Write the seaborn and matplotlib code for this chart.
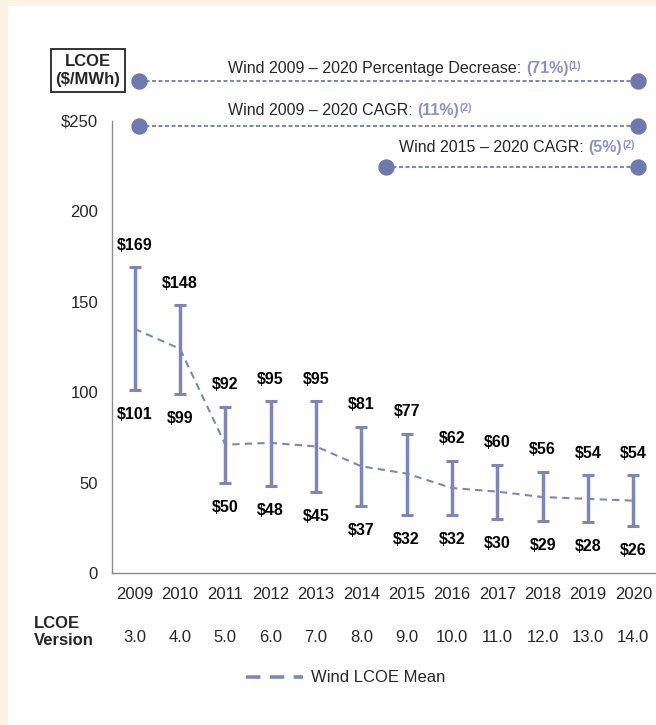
import matplotlib
matplotlib.use("Agg")
import matplotlib.pyplot as plt
import matplotlib.transforms as mtransforms
from matplotlib.patches import Rectangle
from matplotlib.lines import Line2D
import seaborn as sns

# datos del grafico (LCOE eolico, $/MWh)
anios = ["2009", "2010", "2011", "2012", "2013", "2014",
         "2015", "2016", "2017", "2018", "2019", "2020"]
versiones = ["3.0", "4.0", "5.0", "6.0", "7.0", "8.0",
             "9.0", "10.0", "11.0", "12.0", "13.0", "14.0"]
lcoe_alto = [169, 148, 92, 95, 95, 81, 77, 62, 60, 56, 54, 54]
lcoe_bajo = [101, 99, 50, 48, 45, 37, 32, 32, 30, 29, 28, 26]
lcoe_medio = [135, 124, 71, 72, 70, 59, 55, 47, 45, 42, 41, 40]
y_ticks = [0, 50, 100, 150, 200, 250]
y_labels = ["0", "50", "100", "150", "200", "$250"]
rangos_txt = ["Wind 2009 \u2013 2020 Percentage Decrease: ",
              "Wind 2009 \u2013 2020 CAGR: ",
              "Wind 2015 \u2013 2020 CAGR: "]
rangos_pct = ["(71%)", "(11%)", "(5%)"]
rangos_nota = ["(1)", "(2)", "(2)"]

AZUL = "#7C86B9"
AZUL_PUNTO = "#6F79AE"
AZUL_TXT = "#8A92C8"
GRIS = "#8C8C8C"
TXT = "#262626"

sns.set_style("white")
plt.rcParams["font.family"] = ["Liberation Sans", "DejaVu Sans"]

W, H = 656, 725
fig = plt.figure(figsize=(W / 100, H / 100), dpi=100)
fig.patch.set_facecolor("#FDF3E4")
fig.add_artist(Rectangle((8 / W, 0), 1, 1 - 6 / H, transform=fig.transFigure,
                         facecolor="white", edgecolor="none", zorder=0))

ax = fig.add_axes([112 / W, 1 - 573 / H, 544 / W, 452 / H])
ax.set_facecolor("white")
x = list(range(len(anios)))

err_bajo = [m - b for m, b in zip(lcoe_medio, lcoe_bajo)]
err_alto = [a - m for a, m in zip(lcoe_alto, lcoe_medio)]
ax.errorbar(x, lcoe_medio, yerr=[err_bajo, err_alto], fmt="none", ecolor=AZUL,
            elinewidth=2.5, capsize=4.3, capthick=2.2, zorder=3)
sns.lineplot(x=x, y=lcoe_medio, ax=ax, color=AZUL, linewidth=1.5,
             linestyle=(0, (3.5, 2.5)), zorder=4, legend=False)

for i in x:
    ax.annotate(f"${lcoe_alto[i]}", (i, lcoe_alto[i]), xytext=(0, 15.8),
                textcoords="offset points", ha="center", va="center",
                fontsize=11.5, fontweight="bold", color="black")
    ax.annotate(f"${lcoe_bajo[i]}", (i, lcoe_bajo[i]), xytext=(0, -17.6),
                textcoords="offset points", ha="center", va="center",
                fontsize=11.5, fontweight="bold", color="black")

ax.set_xlim(-0.5, 11.39)
ax.set_ylim(0, 250)
ax.set_xticks(x)
ax.set_xticklabels(anios, fontsize=12, color=TXT)
ax.set_xticks([i - 0.5 for i in range(len(anios) + 1)], minor=True)
ax.set_yticks(y_ticks)
ax.set_yticklabels(y_labels, fontsize=12, color=TXT)
ax.tick_params(axis="x", which="major", length=0, pad=10)
ax.tick_params(axis="x", which="minor", length=4, width=1, color=GRIS, direction="out")
ax.tick_params(axis="y", length=4, width=1, color=GRIS, direction="out", pad=6)
for lado in ["top", "right"]:
    ax.spines[lado].set_visible(False)
for lado in ["left", "bottom"]:
    ax.spines[lado].set_color(GRIS)
    ax.spines[lado].set_linewidth(1.0)

# lineas de rango en la cabecera
linea_x0 = [0.1, 0.1, 5.55]
linea_x1 = [11.1, 11.1, 11.1]
linea_y = [272, 247, 224.5]
texto_x = [2.06, 2.06, 5.84]
texto_y = [279, 256, 235.6]
for k in range(3):
    ax.plot([linea_x0[k], linea_x1[k]], [linea_y[k]] * 2, color=AZUL_PUNTO,
            lw=1.3, ls=(0, (2.2, 1.4)), clip_on=False, zorder=5)
    ax.plot([linea_x0[k], linea_x1[k]], [linea_y[k]] * 2, "o", color=AZUL_PUNTO,
            ms=10.8, clip_on=False, zorder=6)
    t1 = ax.text(texto_x[k], texto_y[k], rangos_txt[k], ha="left", va="center",
                 fontsize=11.5, color=TXT, clip_on=False)
    t2 = ax.annotate(rangos_pct[k], xy=(1, 0), xycoords=t1, ha="left",
                     va="bottom", fontsize=11.5, fontweight="bold", color=AZUL_TXT)
    ax.annotate(rangos_nota[k], xy=(1, 1), xycoords=t2, ha="left", va="top",
                fontsize=7.5, fontweight="bold", color=AZUL_TXT)

fig.text(88 / W, 1 - 70.5 / H, "LCOE\n($/MWh)", ha="center", va="center",
         fontsize=12, fontweight="bold", color=TXT, linespacing=1.2,
         bbox=dict(boxstyle="square,pad=0.3", fc="white", ec="#333333", lw=1.4))

# fila de versiones
mezcla = mtransforms.blended_transform_factory(ax.transData, fig.transFigure)
for i in x:
    ax.text(i, 1 - 637 / H, versiones[i], transform=mezcla, ha="center",
            va="center", fontsize=12, color=TXT)
fig.text(34 / W, 1 - 632 / H, "LCOE\nVersion", ha="left", va="center",
         fontsize=12, fontweight="bold", color=TXT, linespacing=1.1)

mano = Line2D([0], [0], color=AZUL, lw=2.6, ls=(0, (4, 2.6)))
fig.legend([mano], ["Wind LCOE Mean"], loc="center",
           bbox_to_anchor=(346 / W, 1 - 678 / H), frameon=False,
           handlelength=3.4, handletextpad=0.5, fontsize=12, labelcolor=TXT)

fig.savefig("out.png", dpi=100, facecolor=fig.get_facecolor())
